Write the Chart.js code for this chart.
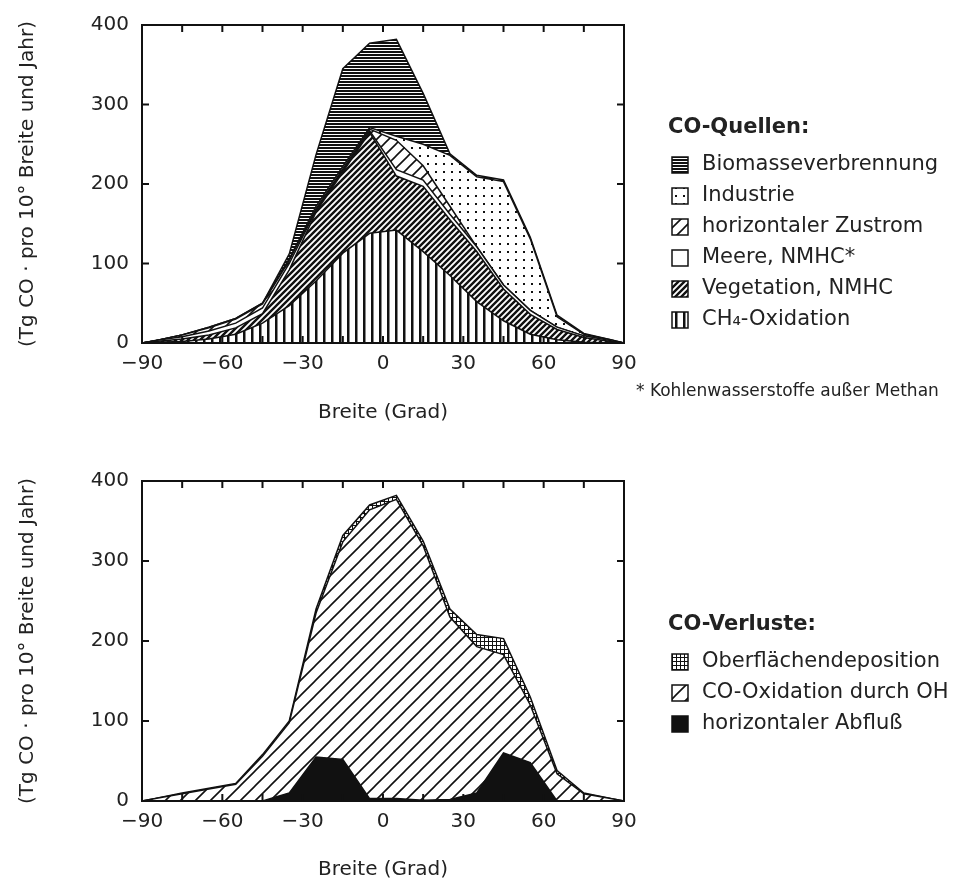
<!DOCTYPE html>
<html>
<head>
<meta charset="utf-8">
<script src="https://cdn.jsdelivr.net/npm/chart.js@4.4.1/dist/chart.umd.min.js"></script>
<style>
  body { margin: 0; background: #fff; }
  canvas { display: block; }
</style>
</head>
<body>
<canvas id="quellen" width="967" height="441"></canvas>
<canvas id="verluste" width="967" height="441"></canvas>
<script>
// latitude (deg) - band centres, same for both panels
var breite = [-90, -85, -75, -65, -55, -45, -35, -25, -15, -5, 5, 15, 25, 35, 45, 55, 65, 75, 85, 90];
var xTicks = [-90, -60, -30, 0, 30, 60, 90];
var yTicks = [0, 100, 200, 300, 400];
var xMinorStep = 15;

// CO-Quellen, Tg CO pro 10 deg Breite und Jahr (stacked, bottom layer first)
var ch4Oxidation = [0, 1, 2, 5, 11, 25, 47, 78, 113, 138, 142, 115, 85, 52, 28, 11, 4, 1, 0, 0];
var vegetation   = [0, 1, 3, 5, 8, 12, 45, 87, 102, 127, 68, 82, 70, 63, 40, 25, 13, 6, 2, 0];
var meere        = [0, 1, 3, 5, 6, 7, 8, 2, 2, 2, 8, 8, 7, 6, 5, 5, 3, 2, 1, 0];
var zustrom      = [0, 0, 2, 4, 5, 5, 4, 2, 2, 2, 37, 18, 10, 0, 0, 0, 0, 0, 0, 0];
var industrie    = [0, 0, 0, 1, 1, 1, 2, 3, 3, 2, 5, 27, 64, 88, 130, 90, 13, 2, 1, 0];
var biomasse     = [0, 0, 0, 0, 0, 0, 6, 65, 123, 106, 122, 64, 2, 2, 2, 2, 2, 1, 0, 0];

// CO-Verluste
var abfluss      = [0, 0, 0, 0, 0, 0, 10, 55, 52, 3, 3, 1, 2, 10, 60, 48, 0, 0, 0, 0];
var ohOxidation  = [0, 3, 9, 15, 21, 56, 88, 180, 272, 361, 374, 318, 228, 183, 123, 72, 34, 9, 3, 0];
var deposition   = [0, 0, 1, 1, 1, 2, 2, 5, 8, 6, 5, 6, 10, 15, 20, 10, 4, 1, 0, 0];

Chart.defaults.font.family = "'DejaVu Sans', sans-serif";
Chart.defaults.font.size = 20;
Chart.defaults.color = '#222';

// hatch patterns like the printed figure
function makePattern(kind) {
  var c = document.createElement('canvas');
  var g = c.getContext('2d');
  var s = 8;
  if (kind == 'horizontal') s = 3;
  if (kind == 'diagDense') s = 6;
  if (kind == 'diagSparse') s = 12;
  if (kind == 'diagOH') s = 15;
  if (kind == 'grid') s = 4;
  c.width = s; c.height = s;
  g.fillStyle = '#fff';
  g.fillRect(0, 0, s, s);
  g.fillStyle = '#111';
  g.strokeStyle = '#111';
  if (kind == 'black') g.fillRect(0, 0, s, s);
  if (kind == 'vertical') g.fillRect(3, 0, 2.5, s);
  if (kind == 'horizontal') g.fillRect(0, 0, s, 2);
  if (kind == 'dots') g.fillRect(3, 3, 2, 2);
  if (kind == 'grid') { g.fillRect(0, 0, s, 1); g.fillRect(0, 0, 1, s); }
  if (kind.indexOf('diag') == 0) {
    g.lineWidth = kind == 'diagDense' ? 2.4 : 1.6;
    g.beginPath();
    g.moveTo(0, s); g.lineTo(s, 0);
    g.moveTo(-1, 1); g.lineTo(1, -1);
    g.moveTo(s - 1, s + 1); g.lineTo(s + 1, s - 1);
    g.stroke();
  }
  return g.createPattern(c, 'repeat');
}

function pts(vals) {
  return breite.map(function(b, i) { return { x: b, y: vals[i] }; });
}

function layer(label, vals, pattern, first) {
  return {
    label: label,
    data: pts(vals),
    fill: first ? 'origin' : '-1',
    backgroundColor: makePattern(pattern),
    borderColor: '#111',
    borderWidth: 1.5,
    pointRadius: 0,
    tension: 0
  };
}

function fmt(v) {
  return v < 0 ? '\u2212' + (-v) : '' + v;
}

// box round the plot with inward ticks on all four sides
var frame = {
  id: 'frame',
  afterDatasetsDraw: function(chart) {
    var a = chart.chartArea, g = chart.ctx;
    var xs = chart.scales.x, ys = chart.scales.y;
    g.save();
    g.strokeStyle = '#111';
    g.lineWidth = 2;
    g.strokeRect(a.left, a.top, a.right - a.left, a.bottom - a.top);
    g.beginPath();
    for (var v = xTicks[0] + xMinorStep; v < xTicks[xTicks.length - 1]; v += xMinorStep) {
      var px = xs.getPixelForValue(v);
      g.moveTo(px, a.bottom); g.lineTo(px, a.bottom - 7);
      g.moveTo(px, a.top); g.lineTo(px, a.top + 7);
    }
    yTicks.slice(1, -1).forEach(function(t) {
      var py = ys.getPixelForValue(t);
      g.moveTo(a.left, py); g.lineTo(a.left + 7, py);
      g.moveTo(a.right, py); g.lineTo(a.right - 7, py);
    });
    g.stroke();
    g.restore();
  }
};

// legend to the right, drawn from the datasets
var sideLegend = {
  id: 'sideLegend',
  afterDraw: function(chart, args, o) {
    var g = chart.ctx;
    var sets = chart.data.datasets.slice().reverse();
    g.save();
    g.textBaseline = 'middle';
    g.fillStyle = '#222';
    g.font = "bold 21px 'DejaVu Sans'";
    g.fillText(o.title, o.x, o.y);
    g.font = "21px 'DejaVu Sans'";
    sets.forEach(function(ds, i) {
      var y = o.y + 37 + i * 31;
      g.fillStyle = ds.backgroundColor;
      g.fillRect(o.x + 4, y - 8, 16, 16);
      g.strokeStyle = '#111';
      g.lineWidth = 1.5;
      g.strokeRect(o.x + 4, y - 8, 16, 16);
      g.fillStyle = '#222';
      g.fillText(ds.label, o.x + 34, y);
    });
    if (o.note) {
      g.font = "17px 'DejaVu Sans'";
      g.fillText(o.note, o.noteX, o.noteY);
    }
    g.restore();
  }
};

function options(padTop, xHeight, titlePad, legend) {
  return {
    responsive: false,
    animation: false,
    layout: { padding: { top: padTop, right: 343, left: 0, bottom: 0 } },
    plugins: { legend: { display: false }, tooltip: { enabled: false }, sideLegend: legend },
    scales: {
      x: {
        type: 'linear', min: -90, max: 90,
        afterBuildTicks: function(s) { s.ticks = xTicks.map(function(v) { return { value: v }; }); },
        afterFit: function(s) { s.height = xHeight; },
        grid: { display: false, drawTicks: false },
        border: { display: false },
        ticks: { padding: 9, maxRotation: 0, autoSkip: false, callback: fmt },
        title: { display: true, text: 'Breite (Grad)', padding: { top: 0, bottom: titlePad } }
      },
      y: {
        stacked: true, min: 0, max: 400,
        afterBuildTicks: function(s) { s.ticks = yTicks.map(function(v) { return { value: v }; }); },
        afterFit: function(s) { s.width = 142; },
        grid: { display: false, drawTicks: false },
        border: { display: false },
        ticks: { padding: 13 },
        title: { display: true, text: '(Tg CO \u00b7 pro 10\u00b0 Breite und Jahr)', padding: { top: 16, bottom: 0 } }
      }
    }
  };
}

new Chart(document.getElementById('quellen'), {
  type: 'line',
  data: {
    datasets: [
      layer('CH\u2084-Oxidation', ch4Oxidation, 'vertical', true),
      layer('Vegetation, NMHC', vegetation, 'diagDense'),
      layer('Meere, NMHC*', meere, 'white'),
      layer('horizontaler Zustrom', zustrom, 'diagSparse'),
      layer('Industrie', industrie, 'dots'),
      layer('Biomasseverbrennung', biomasse, 'horizontal')
    ]
  },
  options: options(23, 98, 16, {
    title: 'CO-Quellen:', x: 668, y: 128,
    note: '* Kohlenwasserstoffe au\u00dfer Methan', noteX: 636, noteY: 392
  }),
  plugins: [frame, sideLegend]
});

new Chart(document.getElementById('verluste'), {
  type: 'line',
  data: {
    datasets: [
      layer('horizontaler Abflu\u00df', abfluss, 'black', true),
      layer('CO-Oxidation durch OH', ohOxidation, 'diagOH'),
      layer('Oberfl\u00e4chendeposition', deposition, 'grid')
    ]
  },
  options: options(40, 81, 0, { title: 'CO-Verluste:', x: 668, y: 184 }),
  plugins: [frame, sideLegend]
});
</script>
</body>
</html>
